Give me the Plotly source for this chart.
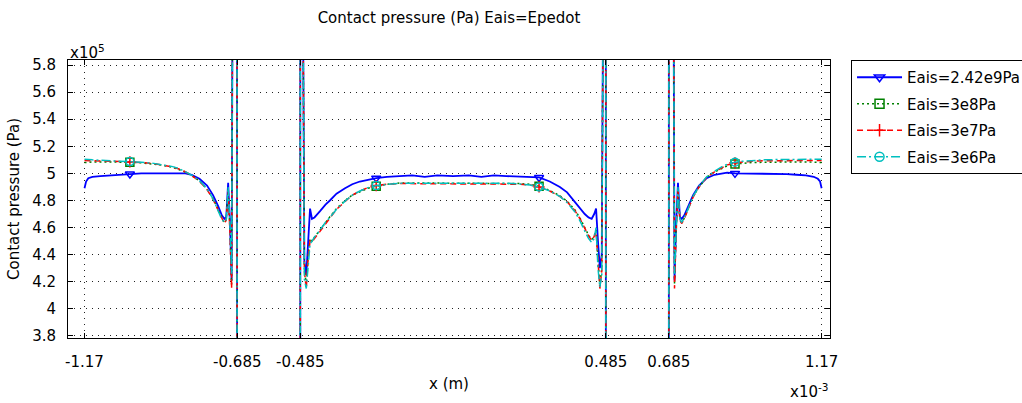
import plotly.graph_objects as go

# x positions in units of 1e-3 m, pressure in units of 1e5 Pa
X_OUTER_LEFT = [-1.170, -1.165, -1.158, -1.145, -1.120, -1.090, -1.060, -1.026, -0.990, -0.950,
                -0.920, -0.890, -0.870, -0.850, -0.830, -0.805, -0.781, -0.762, -0.746, -0.734,
                -0.726, -0.720, -0.714, -0.708, -0.703, -0.699, -0.686, -0.685]
X_INNER = [-0.485, -0.485, -0.478, -0.472, -0.466, -0.460, -0.454, -0.448, -0.440, -0.423,
           -0.405, -0.391, -0.370, -0.343, -0.320, -0.296, -0.270, -0.244, -0.210, -0.169,
           -0.130, -0.090, -0.050, 0.000, 0.050, 0.090, 0.130, 0.169, 0.210, 0.244,
           0.273, 0.307, 0.339, 0.362, 0.387, 0.403, 0.418, 0.430, 0.440, 0.448,
           0.454, 0.460, 0.466, 0.472, 0.478, 0.485, 0.485]
X_OUTER_RIGHT = [0.685, 0.685, 0.699, 0.703, 0.708, 0.714, 0.720, 0.726, 0.734, 0.746,
                 0.762, 0.781, 0.805, 0.830, 0.850, 0.870, 0.895, 0.920, 0.950, 0.990,
                 1.026, 1.060, 1.090, 1.120, 1.145, 1.158, 1.165, 1.170]

# Eais = 2.42e9 Pa
P_242E9_LEFT = [4.89, 4.94, 4.965, 4.975, 4.98, 4.985, 4.99, 4.995, 5.00, 5.00,
                5.00, 5.00, 5.00, 5.00, 4.99, 4.96, 4.91, 4.84, 4.76, 4.69,
                4.665, 4.68, 4.93, 4.62, 4.21, 7.0, 7.0, 0.0]
P_242E9_INNER = [0.0, 7.0, 7.0, 4.35, 4.25, 4.52, 4.74, 4.665, 4.675, 4.72,
                 4.77, 4.80, 4.85, 4.89, 4.92, 4.94, 4.955, 4.965, 4.975, 4.98,
                 4.985, 4.975, 4.985, 4.98, 4.985, 4.975, 4.985, 4.98, 4.975, 4.975,
                 4.97, 4.94, 4.90, 4.86, 4.79, 4.74, 4.70, 4.675, 4.665, 4.70,
                 4.74, 4.50, 4.30, 4.40, 7.0, 7.0, 0.0]
P_242E9_RIGHT = [0.0, 7.0, 7.0, 4.21, 4.62, 4.93, 4.68, 4.665, 4.69, 4.76,
                 4.84, 4.91, 4.965, 4.99, 5.00, 5.005, 5.00, 5.00, 5.00, 5.00,
                 4.995, 4.995, 4.99, 4.985, 4.975, 4.96, 4.94, 4.89]

# Eais = 3e8 Pa
P_3E8_LEFT = [5.08, 5.082, 5.085, 5.085, 5.085, 5.085, 5.085, 5.082, 5.078, 5.07,
              5.06, 5.045, 5.03, 5.01, 4.985, 4.945, 4.885, 4.815, 4.735, 4.67,
              4.635, 4.66, 4.88, 4.58, 4.18, 7.0, 7.0, 0.0]
P_3E8_INNER = [0.0, 7.0, 7.0, 4.30, 4.18, 4.40, 4.52, 4.50, 4.53, 4.58,
               4.64, 4.68, 4.74, 4.80, 4.84, 4.865, 4.89, 4.905, 4.92, 4.93,
               4.93, 4.93, 4.93, 4.93, 4.93, 4.93, 4.93, 4.93, 4.925, 4.92,
               4.905, 4.875, 4.835, 4.795, 4.73, 4.67, 4.60, 4.545, 4.51, 4.54,
               4.58, 4.38, 4.17, 4.30, 7.0, 7.0, 0.0]
P_3E8_RIGHT = [0.0, 7.0, 7.0, 4.18, 4.58, 4.88, 4.66, 4.635, 4.67, 4.74,
               4.83, 4.90, 4.97, 5.01, 5.035, 5.055, 5.07, 5.075, 5.08, 5.082,
               5.085, 5.085, 5.085, 5.085, 5.085, 5.085, 5.082, 5.08]

# Eais = 3e7 Pa
P_3E7_LEFT = [5.095, 5.095, 5.095, 5.09, 5.09, 5.09, 5.088, 5.085, 5.08, 5.072,
              5.062, 5.047, 5.032, 5.012, 4.985, 4.942, 4.88, 4.81, 4.73, 4.665,
              4.63, 4.655, 4.87, 4.55, 4.15, 7.0, 7.0, 0.0]
P_3E7_INNER = [0.0, 7.0, 7.0, 4.28, 4.15, 4.38, 4.50, 4.49, 4.52, 4.57,
               4.63, 4.67, 4.735, 4.795, 4.84, 4.87, 4.895, 4.91, 4.92, 4.925,
               4.925, 4.925, 4.925, 4.925, 4.925, 4.925, 4.925, 4.925, 4.92, 4.915,
               4.90, 4.87, 4.83, 4.79, 4.725, 4.665, 4.595, 4.54, 4.505, 4.535,
               4.57, 4.36, 4.15, 4.28, 7.0, 7.0, 0.0]
P_3E7_RIGHT = [0.0, 7.0, 7.0, 4.15, 4.55, 4.87, 4.655, 4.63, 4.665, 4.735,
               4.825, 4.90, 4.97, 5.012, 5.04, 5.062, 5.078, 5.085, 5.09, 5.093,
               5.095, 5.095, 5.095, 5.095, 5.095, 5.095, 5.095, 5.095]

# Eais = 3e6 Pa
P_3E6_LEFT = [5.105, 5.105, 5.102, 5.10, 5.097, 5.094, 5.09, 5.087, 5.082, 5.074,
              5.064, 5.05, 5.035, 5.014, 4.988, 4.945, 4.885, 4.812, 4.73, 4.66,
              4.64, 4.66, 4.90, 4.62, 4.26, 7.0, 7.0, 0.0]
P_3E6_INNER = [0.0, 7.0, 7.0, 4.22, 4.15, 4.33, 4.48, 4.50, 4.53, 4.58,
               4.64, 4.675, 4.735, 4.795, 4.84, 4.87, 4.895, 4.91, 4.92, 4.928,
               4.928, 4.928, 4.928, 4.928, 4.928, 4.928, 4.928, 4.928, 4.922, 4.915,
               4.90, 4.87, 4.83, 4.785, 4.715, 4.65, 4.575, 4.52, 4.49, 4.52,
               4.60, 4.30, 4.16, 4.25, 7.0, 7.0, 0.0]
P_3E6_RIGHT = [0.0, 7.0, 7.0, 4.26, 4.62, 4.90, 4.66, 4.64, 4.67, 4.74,
               4.83, 4.905, 4.975, 5.015, 5.045, 5.067, 5.083, 5.09, 5.096, 5.10,
               5.102, 5.104, 5.105, 5.105, 5.105, 5.105, 5.105, 5.105]

# positions carrying a marker symbol
MARKER_X = [-1.026, -0.244, 0.273, 0.895]

SERIES_NAMES = ["Eais=2.42e9Pa", "Eais=3e8Pa", "Eais=3e7Pa", "Eais=3e6Pa"]
SERIES_COLORS = ["#0000ff", "#008000", "#ff0000", "#00bfbf"]
SERIES_DASH = ["solid", "2px,3px", "6px,4px", "9px,3px,2px,3px"]
SERIES_WIDTH = [1.8, 1.5, 1.5, 1.5]
SERIES_SYMBOLS = ["triangle-down-open", "square-open", "cross-thin-open", "circle-open"]

X_TICKS = [-1.17, -0.685, -0.485, 0.485, 0.685, 1.17]
X_TICK_TEXT = ["-1.17", "-0.685", "-0.485", "0.485", "0.685", "1.17"]
Y_TICKS = [3.8, 4.0, 4.2, 4.4, 4.6, 4.8, 5.0, 5.2, 5.4, 5.6, 5.8]
Y_TICK_TEXT = ["3.8", "4", "4.2", "4.4", "4.6", "4.8", "5", "5.2", "5.4", "5.6", "5.8"]

x_all = X_OUTER_LEFT + X_INNER + X_OUTER_RIGHT
series_y = [
    P_242E9_LEFT + P_242E9_INNER + P_242E9_RIGHT,
    P_3E8_LEFT + P_3E8_INNER + P_3E8_RIGHT,
    P_3E7_LEFT + P_3E7_INNER + P_3E7_RIGHT,
    P_3E6_LEFT + P_3E6_INNER + P_3E6_RIGHT,
]

FONT = "DejaVu Sans"

fig = go.Figure()
for i, ys in enumerate(series_y):
    assert len(ys) == len(x_all), (SERIES_NAMES[i], len(ys), len(x_all))
    color = SERIES_COLORS[i]
    fig.add_trace(go.Scatter(
        x=x_all, y=ys, mode="lines", showlegend=False, legendgroup=SERIES_NAMES[i],
        line=dict(color=color, width=SERIES_WIDTH[i], dash=SERIES_DASH[i]), hoverinfo="skip"))
    mx = [x for x in x_all if any(abs(x - m) < 1e-9 for m in MARKER_X)]
    my = [y for x, y in zip(x_all, ys) if any(abs(x - m) < 1e-9 for m in MARKER_X)]
    fig.add_trace(go.Scatter(
        x=mx, y=my, mode="markers", showlegend=False, legendgroup=SERIES_NAMES[i],
        marker=dict(symbol=SERIES_SYMBOLS[i], size=8, color=color, line=dict(color=color, width=1.5))))
    # legend entry showing line style together with the marker
    fig.add_trace(go.Scatter(
        x=[None], y=[None], mode="lines+markers", name=SERIES_NAMES[i], legendgroup=SERIES_NAMES[i],
        line=dict(color=color, width=SERIES_WIDTH[i], dash=SERIES_DASH[i]),
        marker=dict(symbol=SERIES_SYMBOLS[i], size=9, color=color, line=dict(color=color, width=1.5))))

axis_common = dict(
    showline=True, linecolor="black", linewidth=1, mirror="ticks",
    ticks="inside", ticklen=5, tickcolor="black",
    showgrid=True, gridcolor="#222222", gridwidth=1, griddash="1px,5px",
    zeroline=False, tickfont=dict(family=FONT, size=15, color="black"),
)

fig.update_layout(
    width=1022, height=403,
    margin=dict(l=68, r=192, t=60, b=65, autoexpand=False),
    paper_bgcolor="white", plot_bgcolor="white",
    font=dict(family=FONT, size=15, color="black"),
    title=dict(text="Contact pressure (Pa) Eais=Epedot", x=0.5, xref="paper", y=0.955, yanchor="middle",
               font=dict(family=FONT, size=15, color="black")),
    xaxis=dict(axis_common, range=[-1.2224, 1.1966], tickvals=X_TICKS, ticktext=X_TICK_TEXT,
               ticklabelstandoff=10,
               title=dict(text="x (m)", font=dict(family=FONT, size=15), standoff=8)),
    yaxis=dict(axis_common, range=[3.785, 5.837], tickvals=Y_TICKS, ticktext=Y_TICK_TEXT,
               ticklabelstandoff=8,
               title=dict(text="Contact pressure (Pa)", font=dict(family=FONT, size=15), standoff=8)),
    legend=dict(x=1.0276, xanchor="left", y=1.0, yanchor="top", bgcolor="white",
                bordercolor="black", borderwidth=1, font=dict(family=FONT, size=15, color="black"),
                itemwidth=45, tracegroupgap=4, traceorder="grouped"),
    annotations=[
        dict(text="x10<sup>5</sup>", xref="paper", yref="paper", x=0.0, y=1.0, xanchor="left",
             yanchor="bottom", showarrow=False, font=dict(family=FONT, size=15), xshift=0, yshift=-4),
        dict(text="x10<sup>-3</sup>", xref="paper", yref="paper", x=1.0, y=0.0, xanchor="right",
             yanchor="top", showarrow=False, font=dict(family=FONT, size=15), yshift=-41),
    ],
)

fig.write_html("out.html")
